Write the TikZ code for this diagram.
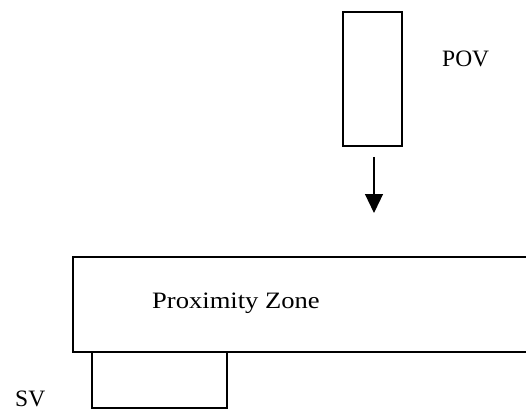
\documentclass[tikz,border=0pt]{standalone}
\usepackage{fontspec}
\setmainfont{Liberation Serif}
\usetikzlibrary{arrows.meta}
\begin{document}
\begin{tikzpicture}[x=1pt,y=1pt,
  outline/.style={draw=black,line width=1.2pt},
  label/.style={inner sep=0pt,font=\fontsize{23.5}{23.5}\selectfont},
  flow/.style={line width=1.2pt,-{Triangle[length=19pt,width=18pt]}}]
  \useasboundingbox (0,0) rectangle (526,410);
  % vehicle approaching from above
  \node[outline,minimum width=59pt,minimum height=134pt,inner sep=0pt] (pov) at (372.5,331) {};
  \node[label,anchor=base west] (povlabel) at (442,343) {POV};
  % direction of travel
  \coordinate (flowstart) at (374,253);
  \coordinate (flowend) at (374,197);
  \draw[flow] (flowstart) -- (flowend);
  % zone along the road, open to the right
  \coordinate (zoneTR) at (526,153);
  \coordinate (zoneTL) at (73,153);
  \coordinate (zoneBL) at (73,58);
  \coordinate (zoneBR) at (526,58);
  \draw[outline] (zoneTR) -- (zoneTL) -- (zoneBL) -- (zoneBR);
  \node[label,anchor=base west,xscale=1.13] (zonelabel) at (152,102) {Proximity Zone};
  % stationary vehicle below the zone
  \node[outline,minimum width=135pt,minimum height=56pt,inner sep=0pt] (sv) at (159.5,30) {};
  \node[label,anchor=base west] (svlabel) at (15,4) {SV};
\end{tikzpicture}
\end{document}
